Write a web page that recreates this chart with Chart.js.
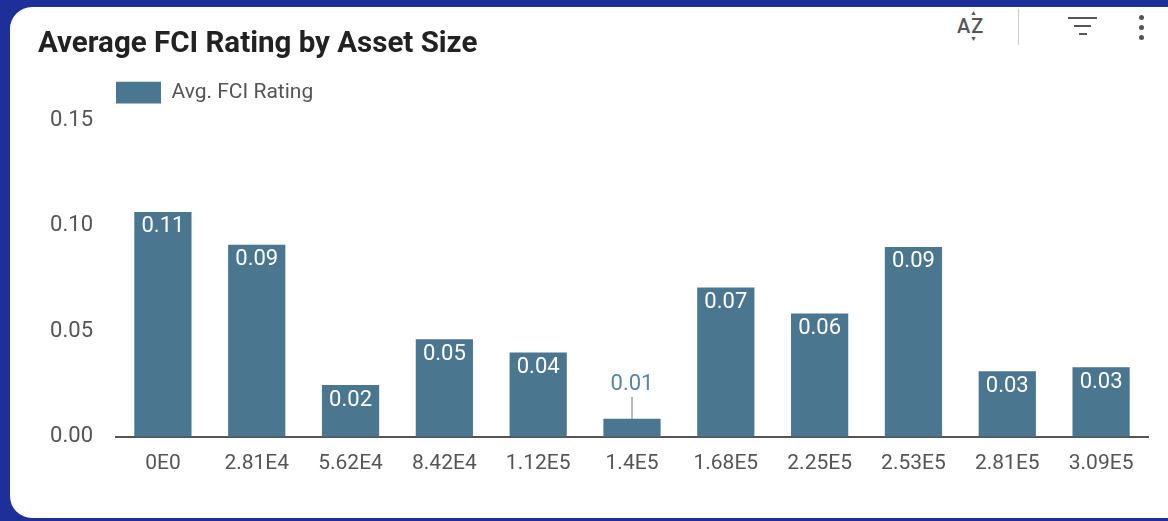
<html>
<head>
  <title>Average FCI Rating by Asset Size</title>
  <style>
    body { margin: 0; background: #1f2f9a; font-family: Roboto, sans-serif; overflow: hidden; }
    .card { position: absolute; left: 10px; top: 7px; width: 1190px; height: 511px; background: #fff; border-radius: 22px; }
    .wrap { position: absolute; left: 0; top: 0; width: 1168px; height: 521px; }
    .tools { position: absolute; top: 0; left: 0; width: 1168px; height: 60px; color: #555; }
    .az { position: absolute; left: 957px; top: 14px; font-size: 20px; letter-spacing: 1px; font-weight: 500; }
    .az .up, .az .dn { position: absolute; left: 13px; font-size: 7px; }
    .az .up { top: -5px; } .az .dn { top: 21px; }
    .sep { position: absolute; left: 1018px; top: 9px; width: 1px; height: 36px; background: #ccc; }
    .flt span { position: absolute; height: 2px; background: #555; }
    .dot { position: absolute; left: 1139px; width: 5px; height: 5px; border-radius: 50%; background: #555; }
  </style>
</head>
<body>
<div class="card"></div>
<div class="tools">
  <div class="az"><span class="up">▲</span>AZ<span class="dn">▼</span></div>
  <div class="sep"></div>
  <div class="flt">
    <span style="left:1068px;top:17px;width:29px;"></span>
    <span style="left:1074px;top:25px;width:17px;"></span>
    <span style="left:1079px;top:33px;width:8px;"></span>
  </div>
  <div class="dot" style="top:15px;"></div>
  <div class="dot" style="top:25px;"></div>
  <div class="dot" style="top:35px;"></div>
</div>
<div class="wrap">
  <canvas id="barChart" width="1168" height="521"></canvas>
</div>
<script src="https://cdn.jsdelivr.net/npm/chart.js"></script>
<script>
  // 資產規模分組與平均 FCI
  const assetSizes = ['0E0', '2.81E4', '5.62E4', '8.42E4', '1.12E5', '1.4E5', '1.68E5', '2.25E5', '2.53E5', '2.81E5', '3.09E5'];
  const avgFci = [0.1066, 0.091, 0.0245, 0.0462, 0.040, 0.0085, 0.0708, 0.0585, 0.090, 0.0311, 0.033];
  const yTicks = [0, 0.05, 0.10, 0.15];

  const barColor = '#4a7690';

  // 圖例下方多留一點空間
  const legendGap = {
    id: 'legendGap',
    beforeLayout(chart) {
      const lg = chart.legend;
      if (lg && !lg._gapPatched) {
        const fit = lg.fit;
        lg.fit = function() { fit.call(this); this.height += 7; };
        lg._gapPatched = true;
      }
    }
  };

  // 柱上數值標籤：放得下就畫在柱內，否則畫在柱上方加引線
  const valueLabels = {
    id: 'valueLabels',
    afterDatasetsDraw(chart) {
      const ctx = chart.ctx;
      const meta = chart.getDatasetMeta(0);
      ctx.save();
      ctx.font = '22px Roboto';
      ctx.textAlign = 'center';
      ctx.textBaseline = 'middle';
      meta.data.forEach((bar, i) => {
        const txt = avgFci[i].toFixed(2);
        const h = bar.base - bar.y;
        if (h > 30) {
          ctx.fillStyle = '#fff';
          ctx.fillText(txt, bar.x, bar.y + 15);
        } else {
          ctx.strokeStyle = '#777';
          ctx.lineWidth = 1;
          ctx.beginPath();
          ctx.moveTo(bar.x, bar.y);
          ctx.lineTo(bar.x, bar.y - 22);
          ctx.stroke();
          ctx.fillStyle = '#5a86a0';
          ctx.fillText(txt, bar.x, bar.y - 34);
        }
      });
      ctx.restore();
    }
  };

  new Chart(document.getElementById('barChart'), {
    type: 'bar',
    data: {
      labels: assetSizes,
      datasets: [{
        label: 'Avg. FCI Rating',
        data: avgFci,
        backgroundColor: barColor,
        borderWidth: 0,
        categoryPercentage: 1,
        barPercentage: 0.61
      }]
    },
    options: {
      responsive: false,
      animation: false,
      layout: { padding: { left: 38, right: 20, top: 0, bottom: 39 } },
      plugins: {
        tooltip: { enabled: false },
        title: {
          display: true,
          text: 'Average FCI Rating by Asset Size',
          align: 'start',
          color: '#222',
          font: { family: 'Roboto', size: 29.5, weight: 'bold' },
          padding: { top: 27, bottom: 19 }
        },
        legend: {
          display: true,
          align: 'start',
          fullSize: false,
          labels: {
            boxWidth: 45,
            boxHeight: 22,
            color: '#555',
            font: { family: 'Roboto', size: 21 },
            padding: 0
          }
        }
      },
      scales: {
        x: {
          grid: { display: false },
          border: { color: '#555', width: 2 },
          ticks: { color: '#555', font: { family: 'Roboto', size: 21 }, padding: 6 }
        },
        y: {
          min: 0,
          max: 0.15,
          afterBuildTicks: s => { s.ticks = yTicks.map(v => ({ value: v })); },
          afterFit: s => { s.width = 78; },
          grid: { display: false },
          border: { display: false },
          ticks: {
            color: '#555',
            font: { family: 'Roboto', size: 22 },
            padding: 15,
            callback: v => Number(v).toFixed(2)
          }
        }
      }
    },
    plugins: [legendGap, valueLabels]
  });
</script>
</body>
</html>
